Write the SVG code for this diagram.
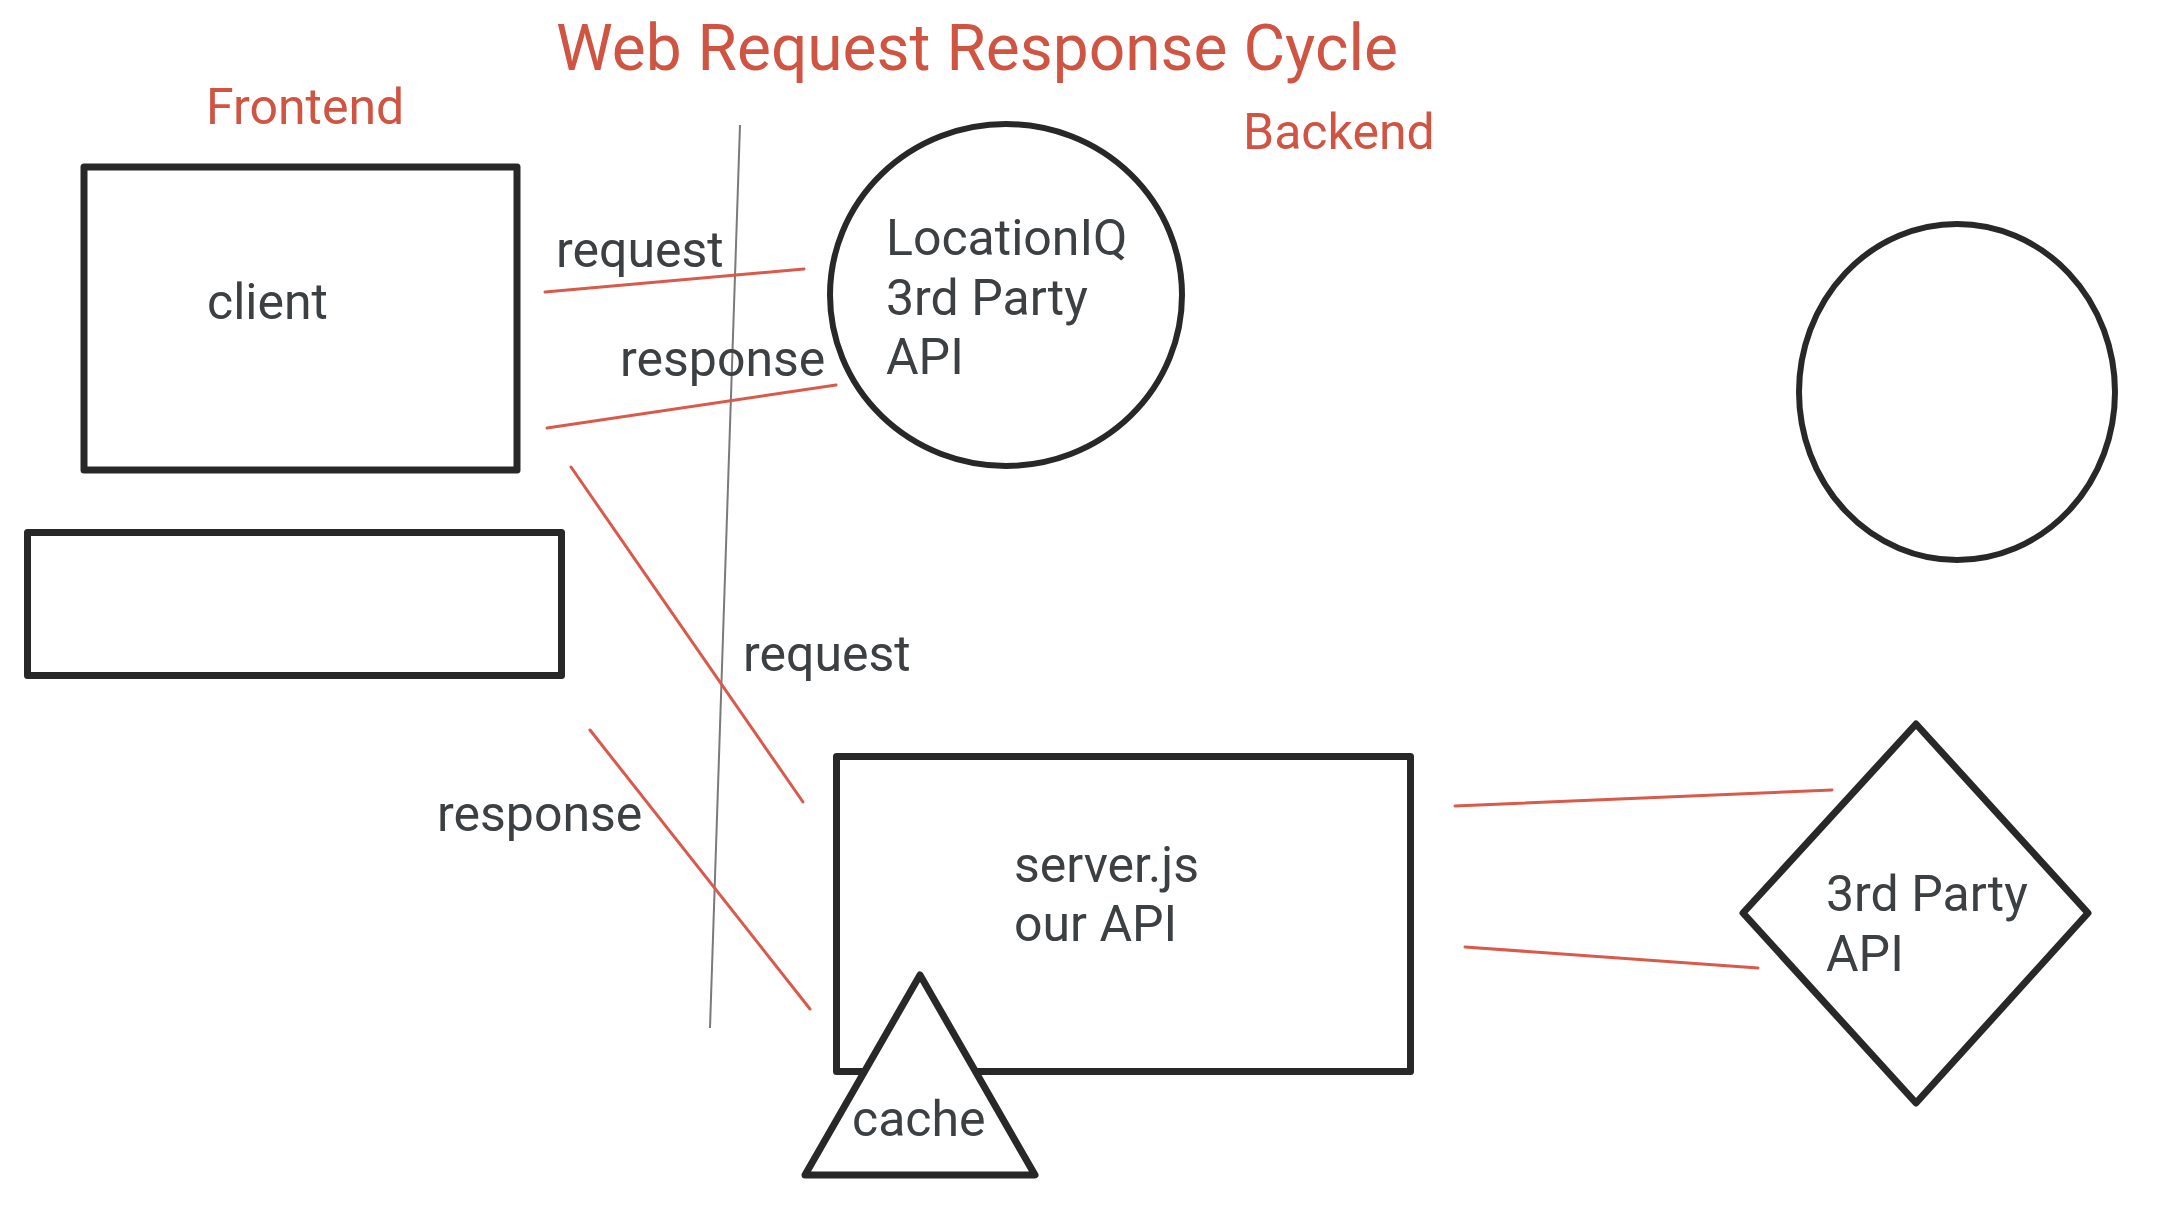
<svg xmlns="http://www.w3.org/2000/svg" width="2168" height="1228" viewBox="0 0 2168 1228">
<style>
.shape{fill:#ffffff;stroke:#282828;stroke-width:7;stroke-linejoin:round}
.oval{fill:#ffffff;stroke:#282828;stroke-width:6}
.lbl{font-family:Roboto,"Liberation Sans",sans-serif;font-size:50px;fill:#3c4043}
.hdr{font-family:Roboto,"Liberation Sans",sans-serif;font-size:50px;fill:#cf5442}
.title{font-family:Roboto,"Liberation Sans",sans-serif;font-size:64px;fill:#cf5442}
.con{stroke:#d9594a;stroke-width:3;fill:none;stroke-linecap:round}
.div{stroke:#7a7a7a;stroke-width:2;fill:none}
</style>
<rect width="2168" height="1228" fill="#ffffff"/>
<text class="title" x="556" y="70">Web Request Response Cycle</text>
<text class="hdr" x="206" y="124">Frontend</text>
<text class="hdr" x="1243" y="149">Backend</text>

<g id="client"><rect class="shape" x="84" y="167" width="433" height="303"/><text class="lbl" x="207" y="319">client</text></g>
<g id="blank-box"><rect class="shape" x="27.5" y="532.5" width="534" height="143"/></g>
<g id="locationiq"><ellipse class="oval" cx="1006" cy="295" rx="176" ry="171"/><text class="lbl" x="886" y="255">LocationIQ</text><text class="lbl" x="886" y="315">3rd Party</text><text class="lbl" x="886" y="374">API</text></g>
<g id="empty-circle"><ellipse class="oval" cx="1957" cy="392" rx="158" ry="168"/></g>
<g id="server"><rect class="shape" x="836.5" y="756.5" width="574" height="315"/><text class="lbl" x="1014" y="882">server.js</text><text class="lbl" x="1014" y="941">our API</text></g>
<g id="cache"><polygon class="shape" points="920,975 1035,1175 805,1175"/><text class="lbl" x="852" y="1136">cache</text></g>
<g id="third-party"><polygon class="shape" points="1916,724 2088,913 1916,1103 1743,913"/><text class="lbl" x="1826" y="911">3rd Party</text><text class="lbl" x="1826" y="971">API</text></g>

<g id="connectors">
<line class="div" x1="740" y1="125" x2="710" y2="1028"/>
<line class="con" x1="545" y1="292" x2="804" y2="269"/>
<line class="con" x1="547" y1="428" x2="836" y2="385"/>
<line class="con" x1="571" y1="467" x2="803" y2="802"/>
<line class="con" x1="590" y1="730" x2="810" y2="1009"/>
<line class="con" x1="1455" y1="806" x2="1832" y2="790"/>
<line class="con" x1="1465" y1="947" x2="1758" y2="968"/>
<text class="lbl" x="556" y="267">request</text>
<text class="lbl" x="620" y="376">response</text>
<text class="lbl" x="743" y="671">request</text>
<text class="lbl" x="437" y="831">response</text>
</g>
</svg>
